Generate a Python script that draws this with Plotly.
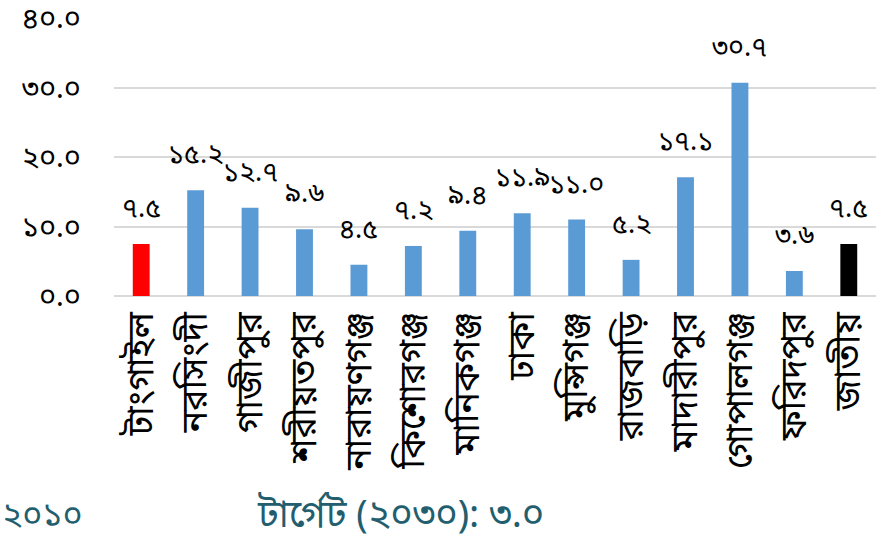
import plotly.graph_objects as go

# Districts and their values (national average last)
districts = ["টাংগাইল", "নরসিংদী", "গাজীপুর", "শরীয়তপুর", "নারায়ণগঞ্জ", "কিশোরগঞ্জ",
             "মানিকগঞ্জ", "ঢাকা", "মুন্সিগঞ্জ", "রাজবাড়ি", "মাদারীপুর", "গোপালগঞ্জ",
             "ফরিদপুর", "জাতীয়"]
values = [7.5, 15.2, 12.7, 9.6, 4.5, 7.2, 9.4, 11.9, 11.0, 5.2, 17.1, 30.7, 3.6, 7.5]
labels = ["৭.৫", "১৫.২", "১২.৭", "৯.৬", "৪.৫", "৭.২", "৯.৪", "১১.৯", "১১.০", "৫.২",
          "১৭.১", "৩০.৭", "৩.৬", "৭.৫"]
y_ticks = [0, 10, 20, 30, 40]
y_tick_text = ["০.০", "১০.০", "২০.০", "৩০.০", "৪০.০"]
year_text = "২০১০"
target_text = "টার্গেট (২০৩০): ৩.০"

colors = ["#FF0000"] + ["#5B9BD5"] * (len(districts) - 2) + ["#000000"]

FONT = "Noto Sans Bengali, Noto Sans, sans-serif"

fig = go.Figure(go.Bar(
    x=districts, y=values, marker=dict(color=colors, line=dict(width=0)),
    width=0.31, hoverinfo="skip",
))

for d, v, t in zip(districts, values, labels):
    fig.add_annotation(x=d, y=v, text=t, showarrow=False, yanchor="bottom",
                       yshift=14, font=dict(family=FONT, size=27, color="#000000"))

fig.add_annotation(xref="paper", yref="paper", x=-0.15, y=-0.795, xanchor="left",
                   yanchor="middle", text=year_text, showarrow=False,
                   font=dict(family=FONT, size=34, color="#235E6E"))
fig.add_annotation(xref="paper", yref="paper", x=0.185, y=-0.795, xanchor="left",
                   yanchor="middle", text=target_text, showarrow=False,
                   font=dict(family=FONT, size=38, color="#235E6E"))

fig.update_layout(
    width=883, height=544,
    margin=dict(l=114, r=7, t=18, b=248),
    plot_bgcolor="white", paper_bgcolor="white",
    showlegend=False, bargap=0.69,
    font=dict(family=FONT, color="#000000"),
    xaxis=dict(tickangle=-90, tickfont=dict(size=36, family=FONT), showgrid=False,
               showline=False, ticks="", automargin=False, ticklabelstandoff=8),
    yaxis=dict(range=[0, 40], tickvals=y_ticks, ticktext=y_tick_text,
               tickfont=dict(size=29, family=FONT), showgrid=True, gridcolor="#D9D9D9",
               gridwidth=2, zeroline=True, zerolinecolor="#D9D9D9", zerolinewidth=2,
               ticklabelstandoff=32, automargin=False),
)

fig.write_html("out.html")
